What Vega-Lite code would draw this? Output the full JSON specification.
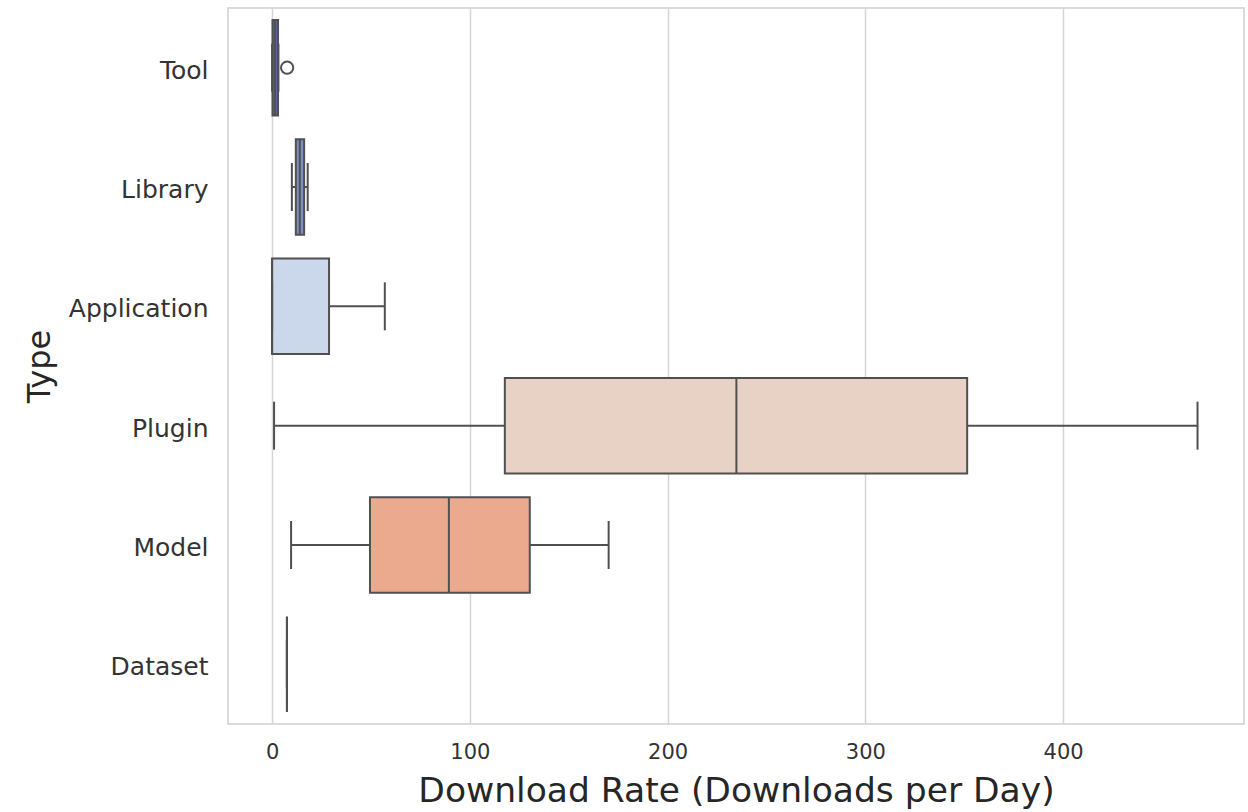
{
  "$schema": "https://vega.github.io/schema/vega-lite/v6.json",
  "width": 1016,
  "height": 716,
  "autosize": {"type": "none"},
  "padding": {"left": 228, "top": 8, "right": 4, "bottom": 88},
  "background": "white",
  "config": {
    "view": {"stroke": "#d0d0d0", "strokeWidth": 1.5},
    "font": "DejaVu Sans"
  },
  "datasets": {
    "boxes": [
      {"type": "Tool", "min": 0, "q1": 0.2, "median": 1.5, "q3": 3, "max": 3.2},
      {"type": "Library", "min": 10, "q1": 12, "median": 14, "q3": 16.2, "max": 18},
      {"type": "Application", "min": 0, "q1": 0, "median": 0, "q3": 28.8, "max": 57},
      {"type": "Plugin", "min": 1, "q1": 117.7, "median": 234.8, "q3": 351.5, "max": 468},
      {"type": "Model", "min": 9.6, "q1": 49.5, "median": 89.4, "q3": 130.3, "max": 170.2},
      {"type": "Dataset", "min": 7.5, "q1": 7.5, "median": 7.5, "q3": 7.5, "max": 7.5}
    ],
    "outliers": [
      {"type": "Tool", "value": 7.6}
    ]
  },
  "encoding": {
    "y": {
      "field": "type",
      "type": "nominal",
      "sort": ["Tool", "Library", "Application", "Plugin", "Model", "Dataset"],
      "scale": {"domain": ["Tool", "Library", "Application", "Plugin", "Model", "Dataset"], "paddingInner": 0.2, "paddingOuter": 0.1},
      "axis": {
        "title": "Type",
        "titleFont": "DejaVu Sans",
        "titleFontSize": 32,
        "titleFontWeight": "normal",
        "titleColor": "#262626",
        "titlePadding": 12,
        "labelFont": "DejaVu Sans",
        "labelFontSize": 25,
        "labelColor": "#333333",
        "labelPadding": 20,
        "labelOffset": 3,
        "ticks": false,
        "domain": false,
        "grid": false
      }
    }
  },
  "layer": [
    {
      "data": {"name": "boxes"},
      "mark": {"type": "rule", "color": "#505050", "strokeWidth": 2},
      "encoding": {
        "x": {
          "field": "min",
          "type": "quantitative",
          "scale": {"domain": [-22.3, 491.5], "nice": false, "zero": false},
          "axis": {
            "title": "Download Rate (Downloads per Day)",
            "titleFont": "DejaVu Sans",
            "titleFontSize": 34.5,
            "titleFontWeight": "normal",
            "titleColor": "#262626",
            "titlePadding": 12,
            "labelFont": "DejaVu Sans",
            "labelFontSize": 21,
            "labelColor": "#333333",
            "labelPadding": 17,
            "values": [0, 100, 200, 300, 400],
            "ticks": false,
            "domain": false,
            "grid": true,
            "gridColor": "#d5d5d5",
            "gridWidth": 1.5
          }
        },
        "x2": {"field": "max"}
      }
    },
    {
      "data": {"name": "boxes"},
      "mark": {"type": "bar", "stroke": "#505050", "strokeWidth": 2, "opacity": 1},
      "encoding": {
        "x": {"field": "q1", "type": "quantitative"},
        "x2": {"field": "q3"},
        "color": {
          "field": "type",
          "type": "nominal",
          "scale": {
            "domain": ["Tool", "Library", "Application", "Plugin", "Model", "Dataset"],
            "range": ["#5a6a99", "#7b8fc4", "#cbd7ea", "#e8d2c6", "#eba98e", "#d6714f"]
          },
          "legend": null
        }
      }
    },
    {
      "data": {"name": "boxes"},
      "mark": {"type": "tick", "orient": "vertical", "color": "#505050", "thickness": 2, "size": 95, "opacity": 1},
      "encoding": {
        "x": {"field": "median", "type": "quantitative"}
      }
    },
    {
      "data": {"name": "boxes"},
      "mark": {"type": "tick", "orient": "vertical", "color": "#505050", "thickness": 2, "size": 48, "opacity": 1},
      "encoding": {
        "x": {"field": "min", "type": "quantitative"}
      }
    },
    {
      "data": {"name": "boxes"},
      "mark": {"type": "tick", "orient": "vertical", "color": "#505050", "thickness": 2, "size": 48, "opacity": 1},
      "encoding": {
        "x": {"field": "max", "type": "quantitative"}
      }
    },
    {
      "data": {"name": "outliers"},
      "mark": {"type": "point", "shape": "circle", "size": 150, "filled": false, "stroke": "#505050", "strokeWidth": 2, "opacity": 1},
      "encoding": {
        "x": {"field": "value", "type": "quantitative"}
      }
    }
  ]
}
